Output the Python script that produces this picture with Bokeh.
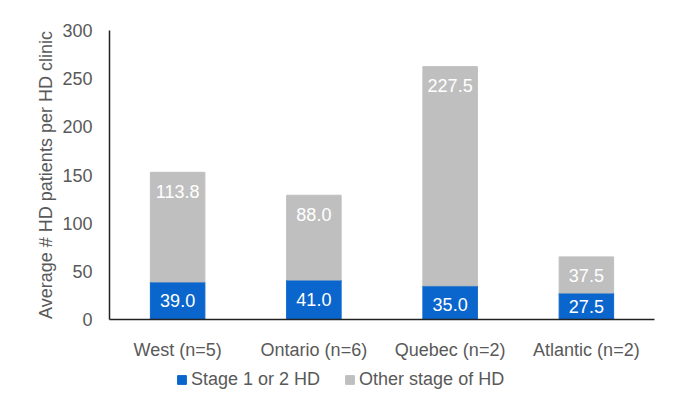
from bokeh.plotting import figure
from bokeh.layouts import column
from bokeh.models import ColumnDataSource, FixedTicker, Legend, LegendItem, Range1d, FactorRange
from bokeh.embed import file_html
from bokeh.resources import INLINE
from bokeh.core.properties import value

regions = ["West (n=5)", "Ontario (n=6)", "Quebec (n=2)", "Atlantic (n=2)"]
stage12 = [39.0, 41.0, 35.0, 27.5]
other = [113.8, 88.0, 227.5, 37.5]
y_ticks = [0, 50, 100, 150, 200, 250, 300]
series_names = ["Stage 1 or 2 HD", "Other stage of HD"]

BLUE = "#0a66cc"
GRAY = "#bfbfbf"
TXT = "#595959"
FONT = "Liberation Sans"

PX_PER_UNIT = 290 / 300  # frame height / y span


def label_offset(seg):
    return min(19, seg * PX_PER_UNIT - 13)


tops = [a + b for a, b in zip(stage12, other)]
src = ColumnDataSource(dict(
    x=regions, s=stage12, o=other, top=tops,
    sl=[f"{v:.1f}" for v in stage12], ol=[f"{v:.1f}" for v in other],
    soff=[label_offset(v) for v in stage12], ooff=[label_offset(v) for v in other],
))

p = figure(x_range=FactorRange(*regions, range_padding=0), y_range=Range1d(0, 300),
           width=675, height=362, output_backend="svg", toolbar_location=None,
           min_border_left=109, min_border_right=21, min_border_top=30, min_border_bottom=42)
p.outline_line_color = None
p.grid.grid_line_color = None
p.background_fill_color = "white"
p.border_fill_color = "white"

p.vbar(x="x", bottom=0, top="s", width=0.4, color=BLUE, source=src)
p.vbar(x="x", bottom="s", top="top", width=0.4, color=GRAY, source=src)

p.text(x="x", y="s", text="sl", source=src, text_color="white", text_font=value(FONT),
       text_font_size="18px", text_align="center", text_baseline="middle", y_offset="soff")
p.text(x="x", y="top", text="ol", source=src, text_color="white", text_font=value(FONT),
       text_font_size="18px", text_align="center", text_baseline="middle", y_offset="ooff")

p.yaxis.ticker = FixedTicker(ticks=y_ticks)
p.yaxis.axis_label = "Average # HD patients per HD clinic"
for ax in (p.xaxis[0], p.yaxis[0]):
    ax.major_tick_line_color = None
    ax.minor_tick_line_color = None
    ax.axis_line_color = "#222222"
    ax.axis_line_width = 1.5
    ax.major_label_text_font = FONT
    ax.major_label_text_color = TXT
    ax.major_label_text_font_size = "18px"
p.yaxis.major_label_standoff = 11
p.yaxis.axis_label_text_font = FONT
p.yaxis.axis_label_text_font_style = "normal"
p.yaxis.axis_label_text_color = TXT
p.yaxis.axis_label_text_font_size = "18px"
p.yaxis.axis_label_standoff = 3
p.xaxis.major_label_standoff = 14

# legend strip
p2 = figure(width=675, height=41, output_backend="svg", toolbar_location=None,
            x_axis_location=None, y_axis_location=None,
            x_range=Range1d(0, 1), y_range=Range1d(0, 1),
            min_border_left=0, min_border_right=0, min_border_top=0, min_border_bottom=0)
p2.outline_line_color = None
p2.grid.grid_line_color = None
p2.border_fill_color = "white"
l1 = p2.vbar(x=[-5], top=[-5], bottom=[-6], width=0.1, color=BLUE)
l2 = p2.vbar(x=[-5], top=[-5], bottom=[-6], width=0.1, color=GRAY)
legend = Legend(items=[LegendItem(label=series_names[0], renderers=[l1]),
                       LegendItem(label=series_names[1], renderers=[l2])],
                orientation="horizontal", location=(67, 13),
                label_text_font=FONT, label_text_font_size="18px", label_text_color=TXT,
                glyph_width=11, glyph_height=11, spacing=24, label_standoff=4,
                padding=0, margin=0,
                border_line_color=None, background_fill_alpha=0)
p2.add_layout(legend, "center")

open("out.html", "w").write(file_html(column(p, p2, spacing=0), INLINE))
